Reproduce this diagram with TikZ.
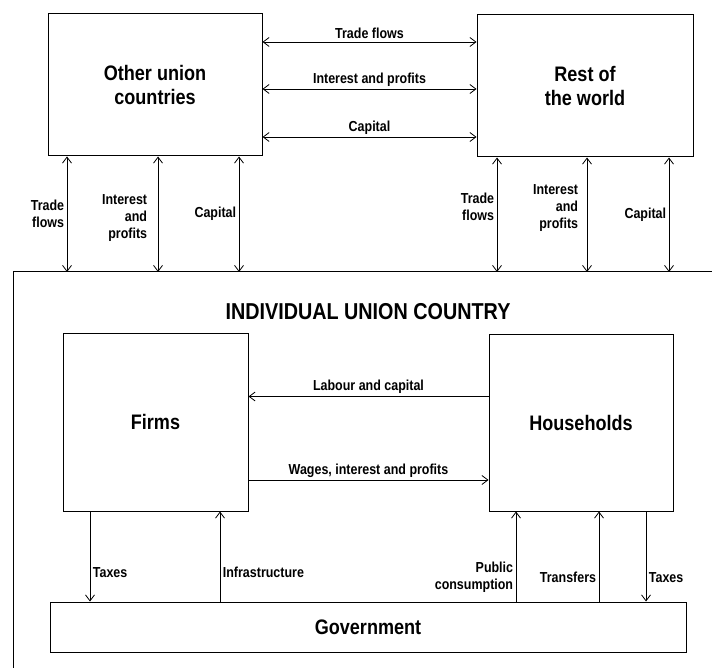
\documentclass[tikz,border=0pt]{standalone}
\usepackage{fontspec}
\setmainfont{Liberation Sans}[FakeStretch=0.86]
\usetikzlibrary{positioning, arrows.meta}

\tikzset{
  box/.style={draw, line width=1pt, inner sep=0pt, font=\bfseries\fontsize{21}{24}\selectfont, align=center},
  lbl/.style={font=\bfseries\fontsize{14.5}{17}\selectfont, inner sep=2.5pt},
  flow/.style={line width=0.8pt}
}

\begin{document}
\begin{tikzpicture}[x=1pt, y=-1pt, >={Straight Barb[length=6pt,width=9pt]}]
  \useasboundingbox (0,0) rectangle (712,668);

  % Sektoren
  \node[box, minimum width=214pt, minimum height=142pt] (ouc) at (155,85) {Other union\\countries};
  \node[box, minimum width=216pt, minimum height=142pt] (row) at (585,86) {Rest of\\the world};
  \coordinate (cnw) at (13,272);
  \coordinate (cne) at (712,272);
  \coordinate (csw) at (13,668);
  \draw[line width=1pt] (csw) -- (cnw) -- (cne);
  \node[font=\bfseries\fontsize{23}{26}\selectfont] (title) at (368,312) {INDIVIDUAL UNION COUNTRY};
  \node[box, minimum width=185pt, minimum height=178pt] (firms) at (155.5,422) {Firms};
  \node[box, minimum width=184pt, minimum height=177pt] (hh) at (581,422.5) {Households};
  \node[box, minimum width=636pt, minimum height=50pt] (gov) at (368,627) {Government};

  % Ströme zwischen den Ländern
  \draw[flow, <->] ([yshift=43pt]ouc.east) -- node[lbl, above] {Trade flows} ([yshift=43pt]ouc.east -| row.west);
  \draw[flow, <->] ([yshift=-4pt]ouc.east) -- node[lbl, above] {Interest and profits} ([yshift=-4pt]ouc.east -| row.west);
  \draw[flow, <->] ([yshift=-52pt]ouc.east) -- node[lbl, above] {Capital} ([yshift=-52pt]ouc.east -| row.west);

  \draw[flow, <->] ([xshift=-88pt]ouc.south) -- node[lbl, left, align=right] {Trade\\flows} ([xshift=-88pt]ouc.south |- cnw);
  \draw[flow, <->] ([xshift=3pt]ouc.south) -- node[lbl, left, align=right, xshift=-8pt, yshift=-4pt] {Interest\\and\\profits} ([xshift=3pt]ouc.south |- cnw);
  \draw[flow, <->] ([xshift=84pt]ouc.south) -- node[lbl, left, align=right] {Capital} ([xshift=84pt]ouc.south |- cnw);

  \draw[flow, <->] ([xshift=-88pt]row.south) -- node[lbl, left, align=right, yshift=8pt] {Trade\\flows} ([xshift=-88pt]row.south |- cnw);
  \draw[flow, <->] ([xshift=2pt]row.south) -- node[lbl, left, align=right, xshift=-6pt, yshift=7pt] {Interest\\and\\profits} ([xshift=2pt]row.south |- cnw);
  \draw[flow, <->] ([xshift=84pt]row.south) -- node[lbl, left, align=right] {Capital} ([xshift=84pt]row.south |- cnw);

  % Ströme im Land
  \draw[flow, ->] ([yshift=26pt]hh.west) -- node[lbl, above] {Labour and capital} ([yshift=26pt]hh.west -| firms.east);
  \draw[flow, ->] ([yshift=-58pt]firms.east) -- node[lbl, above] {Wages, interest and profits} ([yshift=-58pt]firms.east -| hh.west);

  \draw[flow, ->] ([xshift=-65.5pt]firms.south) -- node[lbl, right, pos=0.68] {Taxes} ([xshift=-65.5pt]firms.south |- gov.north);
  \draw[flow, ->] ([xshift=64.5pt]firms.south |- gov.north) -- node[lbl, right, pos=0.32] {Infrastructure} ([xshift=64.5pt]firms.south);
  \draw[flow, ->] ([xshift=-65pt]hh.south |- gov.north) -- node[lbl, left, align=right, pos=0.27] {Public\\consumption} ([xshift=-65pt]hh.south);
  \draw[flow, ->] ([xshift=18pt]hh.south |- gov.north) -- node[lbl, left, pos=0.27] {Transfers} ([xshift=18pt]hh.south);
  \draw[flow, ->] ([xshift=65pt]hh.south) -- node[lbl, right, pos=0.73] {Taxes} ([xshift=65pt]hh.south |- gov.north);
\end{tikzpicture}
\end{document}
